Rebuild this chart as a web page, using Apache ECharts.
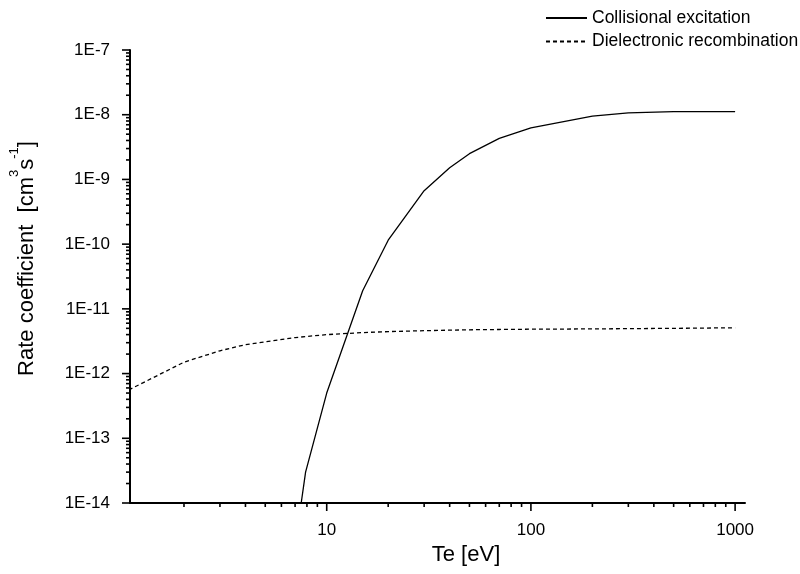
<!DOCTYPE html>
<html><head><meta charset="utf-8">
<script src="https://cdn.jsdelivr.net/npm/echarts@6/dist/echarts.min.js"></script>
<style>html,body{margin:0;padding:0;background:#fff}#c{width:800px;height:574px}</style>
</head><body><div id="c"></div>
<script>
// ---- data ----
const teCollisional   = [7.5, 7.88, 10, 15, 20, 30, 40, 50, 70, 100, 200, 300, 500, 1000];
const rateCollisional = [1.0e-14, 3.0e-14, 5.0e-13, 1.9e-11, 1.15e-10, 6.7e-10, 1.52e-9, 2.5e-9, 4.3e-9, 6.25e-9, 9.5e-9, 1.07e-8, 1.12e-8, 1.12e-8];
const teDielectronic   = [1, 2, 3, 4, 5, 7, 10, 15, 20, 30, 50, 70, 100, 200, 500, 1000];
const rateDielectronic = [5.0e-13, 1.5e-12, 2.25e-12, 2.8e-12, 3.1e-12, 3.6e-12, 4.0e-12, 4.3e-12, 4.45e-12, 4.6e-12, 4.75e-12, 4.8e-12, 4.85e-12, 4.9e-12, 5.0e-12, 5.1e-12];
const seriesNames = ['Collisional excitation', 'Dielectronic recombination'];
const xMajorTicks = [10, 100, 1000];
const xMinorTicks = [2, 3, 4, 5, 6, 7, 8, 9, 20, 30, 40, 50, 60, 70, 80, 90, 200, 300, 400, 500, 600, 700, 800, 900];
const yMajorTicks = [1e-14, 1e-13, 1e-12, 1e-11, 1e-10, 1e-9, 1e-8, 1e-7];
const yMinorMultipliers = [2, 3, 4, 5, 6, 7, 8, 9];

// ---- axis extents ----
const X_MIN = 1.088, X_MAX = 1118;
const Y_MIN = 1e-14, Y_MAX = 1e-7;
const FONT = 'Liberation Sans, Arial, sans-serif';

const yMinorTicks = [];
yMajorTicks.slice(0, -1).forEach(d => yMinorMultipliers.forEach(m => yMinorTicks.push(d * m)));

function xTicks(values, len) {
  return {
    type: 'custom', silent: true, clip: false, z: 5,
    data: values.map(v => [v, Y_MIN]),
    renderItem: (params, api) => {
      const p = api.coord([api.value(0), api.value(1)]);
      return { type: 'line', shape: { x1: p[0], y1: p[1], x2: p[0], y2: p[1] + len },
               style: { stroke: '#000', lineWidth: 1.6 } };
    }
  };
}
function yTicks(values, len) {
  return {
    type: 'custom', silent: true, clip: false, z: 5,
    data: values.map(v => [X_MIN, v]),
    renderItem: (params, api) => {
      const p = api.coord([api.value(0), api.value(1)]);
      return { type: 'line', shape: { x1: p[0], y1: p[1], x2: p[0] - len, y2: p[1] },
               style: { stroke: '#000', lineWidth: 1.6 } };
    }
  };
}
function isPow10(v) { const l = Math.log10(v); return Math.abs(l - Math.round(l)) < 1e-6; }

const chart = echarts.init(document.getElementById('c'), null, { renderer: 'canvas' });
chart.setOption({
  backgroundColor: '#fff',
  animation: false,
  grid: { left: 126, right: 55, top: 50, bottom: 71, containLabel: false },
  legend: {
    left: 545, top: 9, padding: 0, orient: 'vertical', itemWidth: 41, itemHeight: 17, itemGap: 5.5,
    itemStyle: { opacity: 0 },
    textStyle: { fontSize: 17.5, fontFamily: FONT, color: '#000' },
    data: seriesNames
  },
  xAxis: {
    type: 'log', min: X_MIN, max: X_MAX,
    name: 'Te [eV]', nameLocation: 'middle', nameGap: 40,
    nameTextStyle: { fontSize: 22, fontFamily: FONT, color: '#000', padding: [0, 0, 0, 57] },
    axisLine: { show: true, lineStyle: { color: '#000', width: 2 } },
    axisTick: { show: false }, splitLine: { show: false }, minorTick: { show: false },
    axisLabel: { margin: 19, fontSize: 17, fontFamily: FONT, color: '#000',
      formatter: v => isPow10(v) ? String(Math.round(v)) : '' }
  },
  yAxis: {
    type: 'log', min: Y_MIN, max: Y_MAX, interval: 1,
    name: '{m|Rate coefficient  [cm}{s|3}{m|s}{s|-1}{m|]}',
    nameLocation: 'middle', nameGap: 92, nameRotate: 90,
    nameTextStyle: { fontSize: 22, fontFamily: FONT, color: '#000', padding: [0, 0, 0, 36],
      rich: {
        m: { fontSize: 22, fontFamily: FONT, color: '#000', verticalAlign: 'bottom', lineHeight: 30 },
        s: { fontSize: 13, fontFamily: FONT, color: '#000', verticalAlign: 'top', lineHeight: 13 }
      } },
    axisLine: { show: true, lineStyle: { color: '#000', width: 2 } },
    axisTick: { show: false }, splitLine: { show: false }, minorTick: { show: false },
    axisLabel: { margin: 20, fontSize: 17, fontFamily: FONT, color: '#000',
      formatter: v => isPow10(v) ? '1E' + Math.round(Math.log10(v)) : '' }
  },
  series: [
    {
      name: seriesNames[0], type: 'line', symbol: 'none', z: 3,
      lineStyle: { color: '#000', width: 1.3, type: 'solid' },
      itemStyle: { color: '#000' },
      data: teCollisional.map((t, i) => [t, rateCollisional[i]])
    },
    {
      name: seriesNames[1], type: 'line', symbol: 'none', z: 3,
      lineStyle: { color: '#000', width: 1.3, type: [4, 3] },
      itemStyle: { color: '#000' },
      data: teDielectronic.map((t, i) => [t, rateDielectronic[i]])
    },
    xTicks(xMajorTicks, 8),
    xTicks(xMinorTicks, 4),
    yTicks(yMajorTicks, 8),
    yTicks(yMinorTicks, 4)
  ]
});
</script></body></html>
